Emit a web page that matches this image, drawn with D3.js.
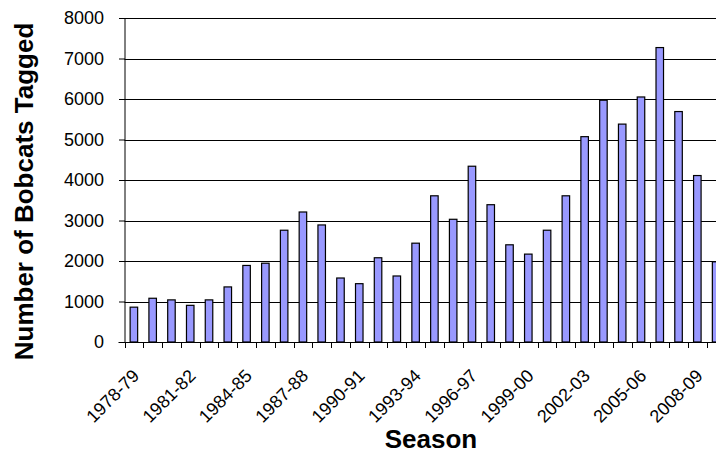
<!DOCTYPE html>
<html>
<head>
<meta charset="utf-8">
<script src="https://d3js.org/d3.v7.min.js"></script>
<style>
  body { margin: 0; background: #fff; }
  text { font-family: "Liberation Sans", Arial, sans-serif; }
</style>
</head>
<body>
<script>
// seasons 1978-79 .. 2009-10
var seasons = ["1978-79","1979-80","1980-81","1981-82","1982-83","1983-84","1984-85","1985-86",
  "1986-87","1987-88","1988-89","1989-90","1990-91","1991-92","1992-93","1993-94",
  "1994-95","1995-96","1996-97","1997-98","1998-99","1999-00","2000-01","2001-02",
  "2002-03","2003-04","2004-05","2005-06","2006-07","2007-08","2008-09","2009-10"]
var tagged = [860,1080,1040,905,1040,1360,1890,1945,2760,3210,2890,1580,1440,2080,1630,2440,
  3610,3030,4340,3390,2400,2170,2760,3610,5070,5970,5380,6050,7270,5690,4110,1980]
// only every third season gets a label
var tickLabels = ["1978-79","1981-82","1984-85","1987-88","1990-91","1993-94","1996-97",
  "1999-00","2002-03","2005-06","2008-09"]
var yTicks = [0,1000,2000,3000,4000,5000,6000,7000,8000]

const w = 716
const h = 450
const padLeft = 124.5
const padTop = 18
const baseY = 342
const plotRight = 725.5   // plot runs past the right edge of the picture

const svg = d3.select("body").append("svg")
  .attr("width", w)
  .attr("height", h)

const xScale = d3.scaleBand()
  .domain(seasons)
  .range([padLeft, plotRight])
  .paddingInner(0.6)
  .paddingOuter(0.3)

const yScale = d3.scaleLinear()
  .domain([0, 8000])
  .range([baseY, padTop])

const step = xScale.step()
const gap = (step - xScale.bandwidth()) / 2

//gridlines
svg.append("g")
  .selectAll("line")
  .data(yTicks.slice(1))
  .enter()
  .append("line")
  .attr("x1", padLeft)
  .attr("x2", w)
  .attr("y1", d => Math.round(yScale(d)) + 0.5)
  .attr("y2", d => Math.round(yScale(d)) + 0.5)
  .attr("stroke", "#000")
  .attr("stroke-width", 1.2)

//bars
svg.append("g")
  .selectAll("rect")
  .data(tagged)
  .enter()
  .append("rect")
  .attr("x", (d, i) => xScale(seasons[i]))
  .attr("y", d => yScale(d))
  .attr("width", xScale.bandwidth())
  .attr("height", d => baseY - yScale(d))
  .attr("fill", "#9999ff")
  .attr("stroke", "#000")
  .attr("stroke-width", 1.2)

//y axis
const yAxis = d3.axisLeft(yScale)
  .tickValues(yTicks)
  .tickSize(6)
  .tickPadding(15)
  .tickFormat(d3.format("d"))

const gy = svg.append("g")
  .attr("transform", "translate(" + (padLeft + 0.5) + ",0)")
  .call(yAxis)
gy.select(".domain").attr("stroke", "#000").attr("d", "M0," + padTop + "V" + baseY)
gy.selectAll(".tick line").attr("stroke", "#000")
gy.selectAll(".tick text")
  .attr("font-size", "18px")
  .attr("font-family", "Liberation Sans, Arial, sans-serif")
  .attr("fill", "#000")

//x axis baseline + ticks at category boundaries
svg.append("line")
  .attr("x1", padLeft - 6)
  .attr("x2", w)
  .attr("y1", baseY + 0.5)
  .attr("y2", baseY + 0.5)
  .attr("stroke", "#000")
  .attr("stroke-width", 1.2)

svg.append("g")
  .selectAll("line")
  .data(seasons)
  .enter()
  .append("line")
  .attr("x1", d => Math.round(xScale(d) - gap) + 0.5)
  .attr("x2", d => Math.round(xScale(d) - gap) + 0.5)
  .attr("y1", baseY)
  .attr("y2", baseY + 6)
  .attr("stroke", "#000")

svg.append("g")
  .selectAll("text")
  .data(tickLabels)
  .enter()
  .append("text")
  .attr("transform", d => "translate(" + (xScale(d) + xScale.bandwidth() / 2 + 6.5) + "," + 377 + ") rotate(-45)")
  .attr("text-anchor", "end")
  .attr("font-size", "18px")
  .text(d => d)

//axis titles
svg.append("text")
  .attr("x", 431)
  .attr("y", 448)
  .attr("text-anchor", "middle")
  .attr("font-size", "26px")
  .attr("font-weight", "bold")
  .text("Season")

svg.append("text")
  .attr("transform", "translate(33," + 191.5 + ") rotate(-90)")
  .attr("text-anchor", "middle")
  .attr("font-size", "26px")
  .attr("font-weight", "bold")
  .text("Number of Bobcats Tagged")
</script>
</body>
</html>
